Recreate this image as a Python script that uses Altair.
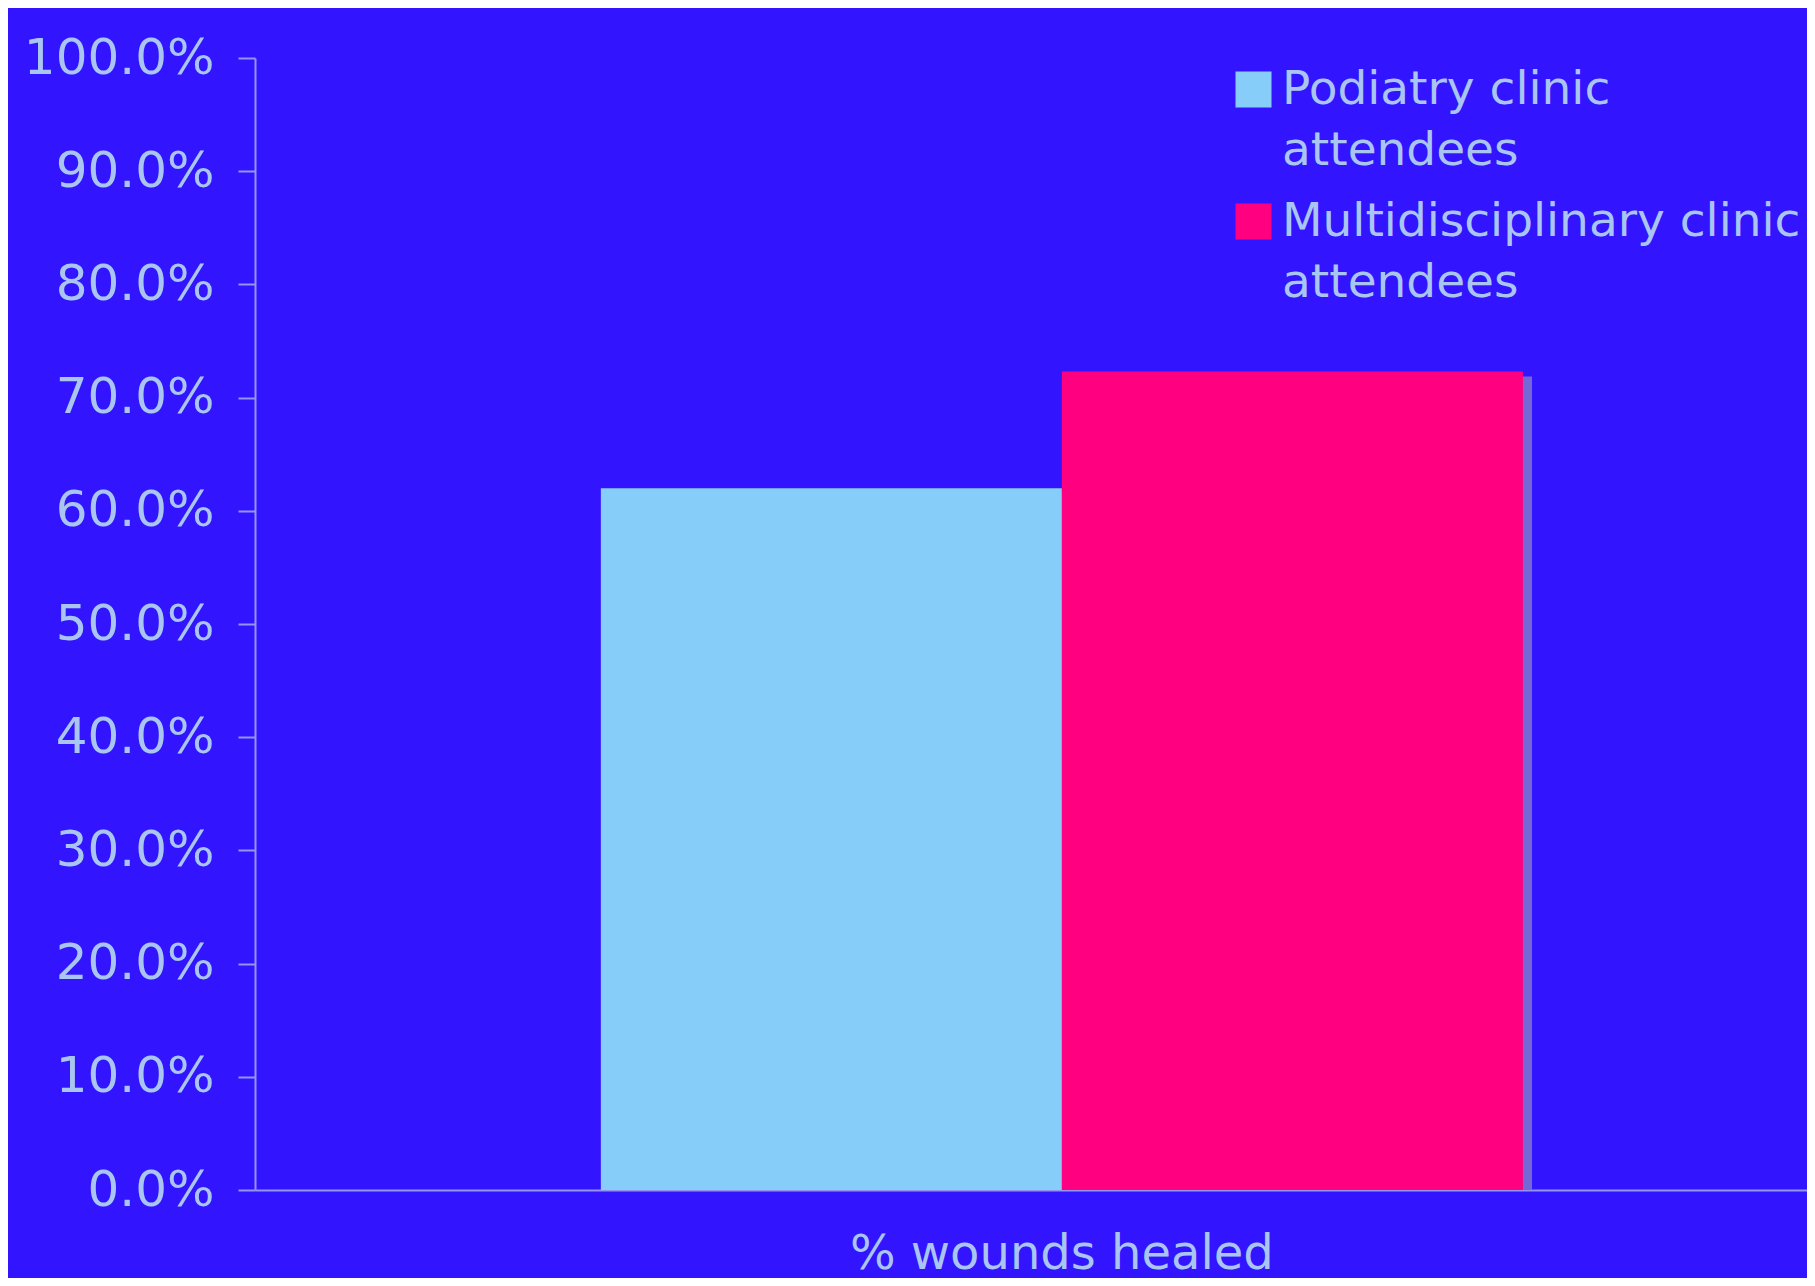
import altair as alt
import pandas as pd

categories = ["% wounds healed"]
groups = ["Podiatry clinic attendees", "Multidisciplinary clinic attendees"]
values = [0.62, 0.723]
colors = ["#87CDFA", "#FF0080"]
y_ticks = [0.0, 0.1, 0.2, 0.3, 0.4, 0.5, 0.6, 0.7, 0.8, 0.9, 1.0]

df = pd.DataFrame({
    "category": [categories[0]] * len(groups),
    "group": groups,
    "value": values,
})

BG = "#3314FF"
TXT = "#A9C6F2"
AX = "#9494F2"
SHADOW = "#7468D6"
FONT = "DejaVu Sans"

xoff_enc = alt.XOffset("group:N", sort=groups, scale=alt.Scale(paddingInner=0, paddingOuter=0))
y_enc = alt.Y("value:Q", title=None,
              scale=alt.Scale(domain=[0, 1], nice=False),
              axis=alt.Axis(values=y_ticks, format=".1%", grid=False,
                            tickSize=17, tickWidth=2, tickColor=AX,
                            domainColor=AX, domainWidth=2,
                            labelFontSize=50, labelColor=TXT, labelFont=FONT,
                            labelPadding=24, labelLimit=1000))

base = alt.Chart(df)

# soft drop shadow drawn slightly to the right of the bars (own band alignment)
shadow = base.mark_bar(color=SHADOW, yOffset=5).encode(
    x=alt.X("category:N", title=None,
            scale=alt.Scale(paddingInner=0, paddingOuter=0.3416, align=0.5635),
            axis=None),
    xOffset=xoff_enc, y=y_enc, y2=alt.datum(0),
)

bars = base.mark_bar().encode(
    x=alt.X("category:N", title=None,
            scale=alt.Scale(paddingInner=0, paddingOuter=0.3416, align=0.549),
            axis=alt.Axis(ticks=False, labelPadding=40, labelFontSize=48,
                          labelAngle=0, labelColor=TXT, labelFont=FONT,
                          domainColor=AX, domainWidth=2, labelLimit=1000)),
    xOffset=xoff_enc, y=y_enc,
    color=alt.Color("group:N", sort=groups,
                    scale=alt.Scale(domain=groups, range=colors),
                    legend=alt.Legend(title=None, orient="none",
                                      legendX=975, legendY=8,
                                      symbolType="square", symbolSize=1296,
                                      symbolStrokeWidth=0, symbolOpacity=1,
                                      labelFontSize=47, labelColor=TXT, labelFont=FONT,
                                      labelOffset=5, labelLimit=1000,
                                      rowPadding=23, padding=0,
                                      labelExpr="split(replace(datum.label, ' attendees', '|attendees'), '|')")),
)

chart = alt.layer(shadow, bars).resolve_scale(x="independent").properties(
    width=1552,
    height=1132,
    background=BG,
    padding={"left": 247, "top": 50, "right": 0, "bottom": 88},
    autosize=alt.AutoSizeParams(type="none"),
).configure(
    view=alt.ViewConfig(stroke=None),
    style={"guide-label": {"lineHeight": 61}},
)

chart.save("out.html", embed_options={"renderer": "svg", "actions": False})
